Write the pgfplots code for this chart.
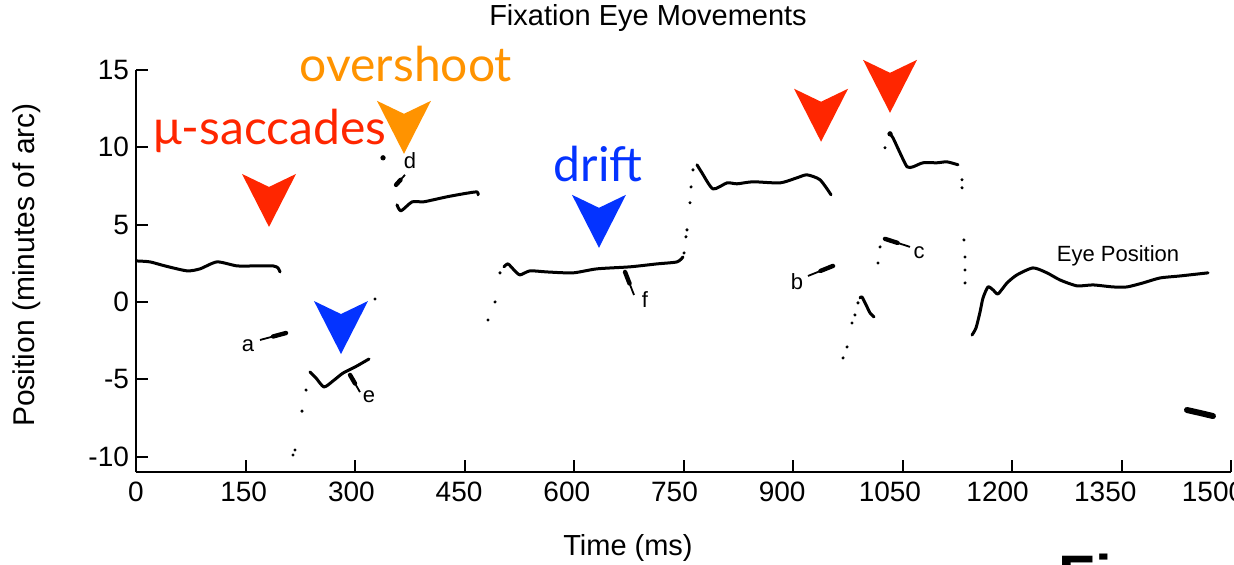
\documentclass[border=0pt]{standalone}
\usepackage{fontspec}
\setmainfont{Liberation Sans}
\newfontfamily\gill{Lato}
\usepackage{pgfplots}
\pgfplotsset{compat=1.18}
\usetikzlibrary{calc}
\definecolor{arrred}{HTML}{FF2600}
\definecolor{arrorange}{HTML}{FF9300}
\definecolor{arrblue}{HTML}{0433FF}
\newcommand{\chev}[3]{\fill[#1] (axis cs:#2,#3) -- ++(-13.5pt,26.5pt) -- ++(13.5pt,-6.5pt) -- ++(13.5pt,6.5pt) -- cycle;}
\newcommand{\leader}[4]{\draw[line width=0.9pt] (axis cs:#1,#2) -- (axis cs:#3,#4);
  \draw[line width=2.2pt, line cap=round] ($(axis cs:#1,#2)!0.5!(axis cs:#3,#4)$) -- (axis cs:#3,#4);}
\begin{document}
\begin{tikzpicture}
\begin{axis}[name=ax, scale only axis, width=547.5pt, height=201pt,
  xmin=0, xmax=1500, ymin=-11, ymax=15,
  axis x line=bottom, axis y line=left, axis line style={line width=1pt, -},
  xtick={0,150,...,1500}, xticklabels={0,150,300,450,600,750,900,1050,1200,1350,1500},
  ytick={-10,-5,0,5,10,15}, yticklabels={-10,-5,0,5,10,15},
  tick align=inside, major tick length=6pt, tick style={line width=1pt, black},
  ticklabel style={font=\fontsize{14}{16}\selectfont},
  xticklabel style={xshift={-0.9pt*\ticknum}, yshift=-1.5pt},
  clip=false,
  every axis title shift=0pt,
  title={Fixation Eye Movements},
  title style={at={(axis description cs:0.4676,1.1294)}, anchor=center, font=\fontsize{14.5}{17}\selectfont},
  xlabel={Time (ms)},
  xlabel style={at={(axis description cs:0.4493,-0.189)}, anchor=center, font=\fontsize{14.5}{17}\selectfont},
  ylabel={Position (minutes of arc)},
  ylabel style={at={(axis description cs:-0.0995,0.515)}, anchor=center, font=\fontsize{15}{17}\selectfont},
]
% solid trace segments
\pgfplotsset{trace/.style={black, line width=1.5pt, line join=round, line cap=round, smooth, tension=0.4}}
\addplot[trace] coordinates {(1.4,2.65) (19.2,2.59) (39.7,2.33) (69.9,2.01) (87.7,2.14) (111.0,2.59) (138.4,2.33) (163.0,2.33) (187.7,2.33) (194.5,2.20) (197.3,1.94)};
\addplot[trace] coordinates {(238.4,-4.53) (246.6,-4.92) (257.5,-5.50) (269.9,-5.11) (283.6,-4.60) (300.0,-4.21) (319.2,-3.69)};
\addplot[trace] coordinates {(357.5,6.28) (363.0,5.89) (378.1,6.47) (393.2,6.47) (406.8,6.60) (426.0,6.80) (447.9,6.99) (467.1,7.12) (468.5,6.93)};
\addplot[trace] coordinates {(504.1,2.27) (509.6,2.46) (517.8,2.07) (526.0,1.75) (539.7,2.01) (563.0,1.94) (598.6,1.88) (631.5,2.14) (676.7,2.27) (713.7,2.46) (741.1,2.59) (749.3,2.91)};
\addplot[trace] coordinates {(768.5,8.87) (775.3,8.35) (790.4,7.31) (809.6,7.70) (823.3,7.64) (845.2,7.77) (882.2,7.70) (905.5,8.03) (919.2,8.22) (937.0,7.90) (952.1,6.93)};
\addplot[trace] coordinates {(991.8,0.26) (994.5,0.32) (1001.4,-0.32) (1005.5,-0.71) (1011.0,-0.97)};
\addplot[trace] coordinates {(1032.9,10.87) (1037.0,10.61) (1046.6,9.64) (1056.2,8.74) (1064.4,8.74) (1078.1,9.00) (1097.3,9.00) (1110.9,9.06) (1126.0,8.87)};
\addplot[trace] coordinates {(1145.2,-2.14) (1150.7,-1.68) (1156.2,-0.65) (1160.3,0.26) (1167.1,0.97) (1174.0,0.78) (1180.8,0.52) (1193.2,1.23) (1206.8,1.75) (1228.8,2.20) (1247.9,1.88) (1265.8,1.42) (1289.0,1.04) (1311.0,1.10) (1338.4,0.97) (1357.5,0.97) (1379.5,1.23) (1402.7,1.55) (1430.1,1.68) (1468.5,1.88)};
\addplot[black, line width=3pt, line cap=round] coordinates {(1439.7,-6.99) (1457.5,-7.18) (1475.3,-7.38)};
% sparse dots of the fast movements
\addplot[only marks, mark=*, mark size=0.55pt, black] coordinates {
 (215.1,-9.90) (217.8,-9.58) (227.4,-7.06) (232.9,-5.70)
 (327.4,0.19)
 (482.2,-1.17) (491.8,0.0) (498.6,1.88)
 (750.7,3.17) (753.4,4.21) (754.8,4.66) (758.9,6.41) (760.3,7.44) (763.0,8.54)
 (968.5,-3.62) (974.0,-2.91) (980.8,-1.36) (984.9,-0.84) (989.0,-0.06)
 (1016.4,2.52) (1019.2,3.56) (1026.0,9.97)
 (1131.5,7.90) (1131.5,7.38) (1134.2,4.01) (1135.6,2.91) (1135.6,2.07) (1135.6,1.23)};
\addplot[only marks, mark=*, mark size=1.1pt, black] coordinates {(338.4,9.32) (1032.9,10.87)};
% leaders and letters
\leader{169.9}{-2.46}{205.5}{-2.01}
\leader{920.5}{1.68}{954.8}{2.33}
\leader{1060.3}{3.56}{1026.0}{4.08}
\leader{368.5}{8.22}{356.2}{7.57}
\leader{306.8}{-5.83}{293.2}{-4.72}
\leader{682.2}{0.45}{669.9}{1.94}
\node[font=\fontsize{11}{12}\selectfont] at (axis cs:153.4,-2.85) {a};
\node[font=\fontsize{11}{12}\selectfont] at (axis cs:905.5,1.29) {b};
\node[font=\fontsize{11}{12}\selectfont] at (axis cs:1072.6,3.17) {c};
\node[font=\fontsize{11}{12}\selectfont] at (axis cs:375.3,9.13) {d};
\node[font=\fontsize{11}{12}\selectfont] at (axis cs:319.2,-6.15) {e};
\node[font=\fontsize{11}{12}\selectfont] at (axis cs:697.3,0.13) {f};
\node[font=\fontsize{11}{13}\selectfont] at (axis cs:1345.2,2.98) {Eye Position};
% coloured annotations
\chev{arrred}{182.2}{4.85}
\chev{arrorange}{367.1}{9.58}
\chev{arrblue}{634.2}{3.50}
\chev{arrblue}{280.8}{-3.37}
\chev{arrred}{938.4}{10.36}
\chev{arrred}{1032.9}{12.23}
\node[anchor=base, inner sep=0, text=arrred, font=\gill\fontsize{24}{26}\selectfont] at (axis cs:183.6,10.16) {μ-saccades};
\node[anchor=base, inner sep=0, text=arrorange, font=\gill\fontsize{24}{26}\selectfont] at (axis cs:369.9,14.24) {overshoot};
\node[anchor=base, inner sep=0, text=arrblue, font=\gill\fontsize{24}{26}\selectfont] at (axis cs:632.9,7.77) {drift};
\node[anchor=north west, inner sep=0, font=\bfseries\fontsize{30}{30}\selectfont] at (axis cs:1263,-16.25) {Fi};
\end{axis}
\pgfresetboundingbox
\path[use as bounding box] (ax.south west) ++(-68pt,-46pt) rectangle ++(617pt,282pt);
\end{tikzpicture}
\end{document}
